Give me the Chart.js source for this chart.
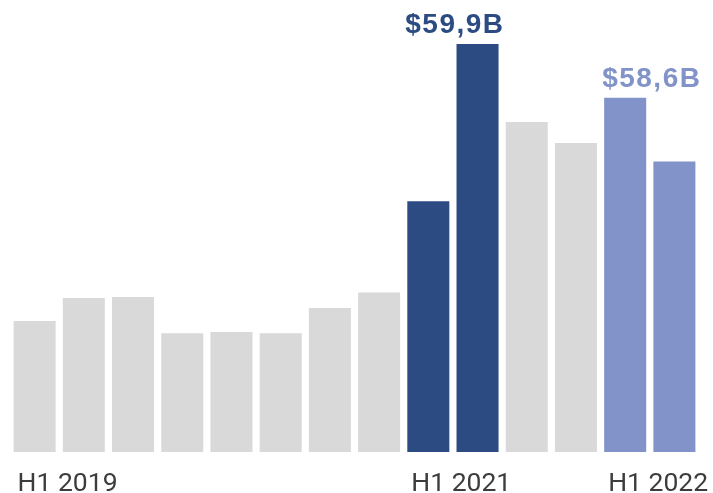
<!DOCTYPE html>
<html>
<head>
<meta charset="utf-8">
<script src="https://cdn.jsdelivr.net/npm/chart.js@4"></script>
<style>
  html, body { margin: 0; padding: 0; background: #ffffff; }
  #wrap { width: 713px; height: 493px; }
</style>
</head>
<body>
<div id="wrap"><canvas id="c" width="713" height="493"></canvas></div>
<script>
// Quarterly values ($B), Q1 2019 .. Q2 2022
const quarters = ["Q1 2019","Q2 2019","Q3 2019","Q4 2019","Q1 2020","Q2 2020","Q3 2020","Q4 2020","Q1 2021","Q2 2021","Q3 2021","Q4 2021","Q1 2022","Q2 2022"];
const values = [11.9, 14.0, 14.1, 10.8, 10.9, 10.8, 13.1, 14.5, 22.8, 37.1, 30.0, 28.1, 32.2, 26.4];
// highlight group per bar: 0 = neutral, 1 = H1 2021, 2 = H1 2022
const highlight = [0,0,0,0,0,0,0,0,1,1,0,0,2,2];
const groupColors = ["#d9d9d9", "#2b4b82", "#8193c8"];
// half-year axis labels (first quarter index of each half)
const axisLabelStarts = [0, 8, 12];
const axisLabels = ["H1 2019", "H1 2021", "H1 2022"];
// value callouts for highlighted halves
const calloutStarts = [8, 12];
const calloutTexts = ["$59,9B", "$58,6B"];
const calloutGroups = [1, 2];

const pairPlugin = {
  id: 'pairLabels',
  afterDatasetsDraw(chart) {
    const ctx = chart.ctx;
    const meta = chart.getDatasetMeta(0);
    ctx.save();
    // callouts
    ctx.font = "bold 28px 'Liberation Sans', Arial, sans-serif";
    try { ctx.letterSpacing = "1.5px"; } catch (e) {}
    ctx.textAlign = "center";
    ctx.textBaseline = "alphabetic";
    calloutStarts.forEach((s, k) => {
      const a = meta.data[s], b = meta.data[s + 1];
      const mid = (a.x + b.x) / 2;
      const top = Math.min(a.y, b.y);
      ctx.fillStyle = groupColors[calloutGroups[k]];
      ctx.fillText(calloutTexts[k], mid + 2, top - 11);
    });
    // axis labels
    try { ctx.letterSpacing = "0px"; } catch (e) {}
    ctx.font = "26.5px Roboto, 'Liberation Sans', sans-serif";
    ctx.fillStyle = "#3c3c3c";
    ctx.textAlign = "center";
    const base = chart.chartArea.bottom + 39;
    axisLabelStarts.forEach((s, k) => {
      const a = meta.data[s], b = meta.data[s + 1];
      const mid = (a.x + b.x) / 2;
      const w = ctx.measureText(axisLabels[k]).width;
      const cx = Math.max(mid + 2, a.x - a.width / 2 + 4 + w / 2);
      ctx.fillText(axisLabels[k], cx, base);
    });
    ctx.restore();
  }
};

new Chart(document.getElementById('c'), {
  type: 'bar',
  data: {
    labels: quarters,
    datasets: [{
      data: values,
      backgroundColor: highlight.map(g => groupColors[g]),
      borderWidth: 0,
      barPercentage: 0.854,
      categoryPercentage: 1.0
    }]
  },
  options: {
    responsive: false,
    devicePixelRatio: 1,
    animation: false,
    layout: { padding: { left: 10, right: 14, top: 12, bottom: 41 } },
    plugins: { legend: { display: false }, tooltip: { enabled: false } },
    scales: {
      x: { display: false, grid: { display: false } },
      y: { display: false, min: 0, max: 40 }
    }
  },
  plugins: [pairPlugin]
});
</script>
</body>
</html>
